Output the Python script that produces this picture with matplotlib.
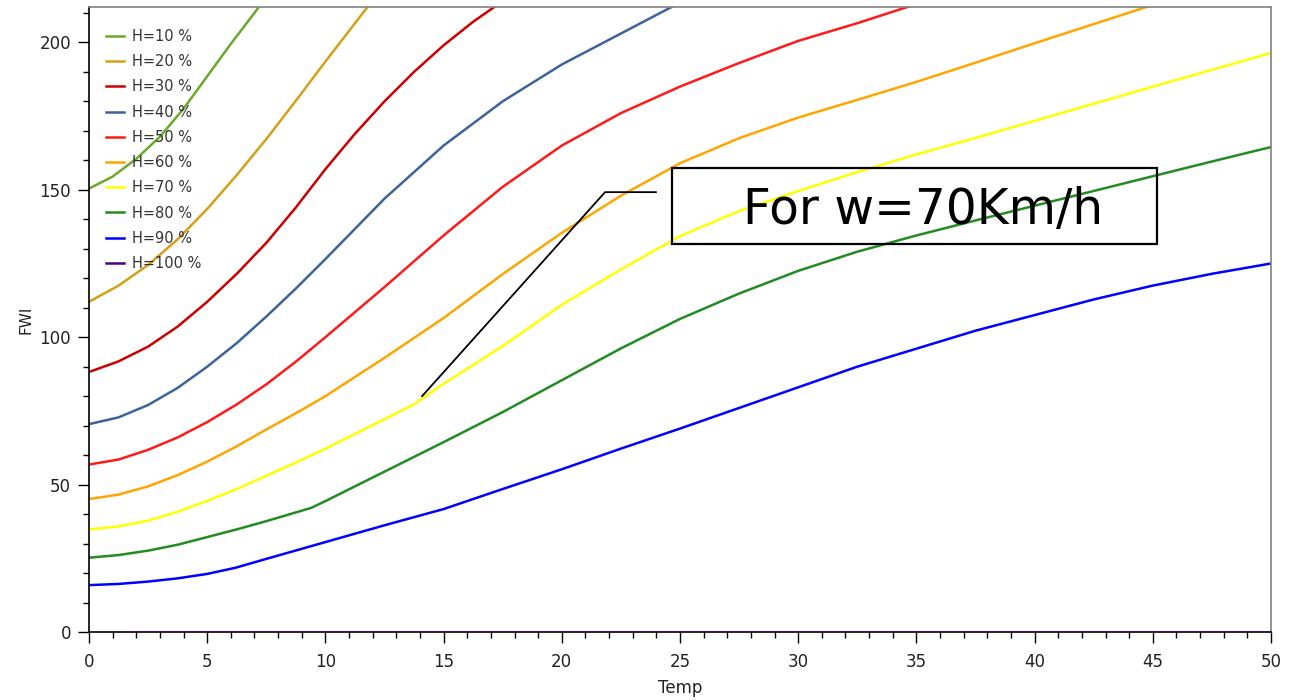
import matplotlib
matplotlib.use("Agg")
import matplotlib.pyplot as plt
from matplotlib.ticker import MultipleLocator
from matplotlib.patches import Rectangle

# ---- data ----
series_labels = ["H=10 %", "H=20 %", "H=30 %", "H=40 %", "H=50 %",
                 "H=60 %", "H=70 %", "H=80 %", "H=90 %", "H=100 %"]
series_colors = ["#6aaa2a", "#d4a017", "#cc0000", "#3c639c", "#ff1a1a",
                 "#ffa500", "#ffff00", "#228b22", "#0000ff", "#4b0082"]

t_h10 = [0, 1, 2, 3, 4, 5, 6, 7, 7.5]
f_h10 = [150.4, 154.5, 160.5, 168, 177.5, 188.5, 199.5, 210, 215.5]

t_h20 = [0, 1.25, 2.5, 3.75, 5, 6.25, 7.5, 8.75, 10, 11.25, 12.5]
f_h20 = [112, 117.5, 124.5, 133.2, 143.5, 155, 167.2, 180.2, 193.5, 206.5, 219.5]

t_h30 = [0, 1.25, 2.5, 3.75, 5, 6.25, 7.5, 8.75, 10, 11.25, 12.5, 13.75,
         15, 16.25, 17.5]
f_h30 = [88.2, 91.8, 96.8, 103.6, 112, 121.5, 132, 144, 157, 169, 180,
         190, 199, 207, 214]

t_h40 = [0, 1.25, 2.5, 3.75, 5, 6.25, 7.5, 8.75, 10, 12.5, 15, 17.5, 20,
         22.5, 25]
f_h40 = [70.5, 72.8, 77, 82.8, 90, 98, 107, 116.5, 126.5, 147, 165,
         180, 192.5, 203, 213.5]

t_h50 = [0, 1.25, 2.5, 3.75, 5, 6.25, 7.5, 8.75, 10, 12.5, 15, 17.5, 20,
         22.5, 25, 27.5, 30, 32.5, 35]
f_h50 = [56.8, 58.5, 61.8, 66, 71.2, 77.2, 84, 91.7, 100, 117, 134.5,
         151, 165, 176, 185, 193, 200.5, 206.5, 213]

t_h60 = [0, 1.25, 2.5, 3.75, 5, 6.25, 7.5, 8.75, 10, 12.5, 15, 17.5, 20,
         22.5, 25, 27.5, 30, 32.5, 35, 37.5, 40, 42.5, 45]
f_h60 = [45.1, 46.6, 49.4, 53.2, 57.8, 63, 68.7, 74.2, 80, 93, 106.5,
         121.4, 135.4, 148, 159, 167.5, 174.5, 180.5, 186.6, 193.1, 199.7,
         206.2, 212.7]

t_h70 = [0, 1.25, 2.5, 3.75, 5, 6.25, 7.5, 8.75, 10, 12.5, 13.7, 15, 17.5,
         20, 22.5, 25, 27.5, 30, 32.5, 35, 37.5, 40, 42.5, 45, 47.5, 50]
f_h70 = [34.8, 35.8, 37.8, 40.8, 44.5, 48.5, 53, 57.5, 62.2, 72.2, 77,
         84.2, 97, 111, 123, 134.3, 142.8, 149.6, 156, 162, 167.6, 173.4,
         179.2, 185, 190.7, 196.4]

t_h80 = [0, 1.25, 2.5, 3.75, 5, 6.25, 7.5, 9.4, 10, 12.5, 15, 17.5, 20,
         22.5, 25, 27.5, 30, 32.5, 35, 37.5, 40, 42.5, 45, 47.5, 50]
f_h80 = [25.2, 26.1, 27.6, 29.6, 32.2, 34.8, 37.6, 42.1, 44.4, 54.4, 64.4,
         74.6, 85.4, 96.2, 106.2, 114.8, 122.5, 129, 134.5, 139.6, 144.6,
         149.6, 154.6, 159.6, 164.5]

t_h90 = [0, 1.25, 2.5, 3.75, 5, 6.2, 7.5, 10, 12.5, 15, 17.5, 20, 22.5,
         25, 27.5, 30, 32.5, 35, 37.5, 40, 42.5, 45, 47.5, 50]
f_h90 = [15.9, 16.3, 17.1, 18.2, 19.7, 21.8, 24.8, 30.5, 36.2, 41.7, 48.5,
         55.2, 62.2, 69.0, 76.0, 83.0, 90.0, 96.1, 102.2, 107.5, 112.8,
         117.5, 121.5, 125.0]

t_h100 = [1.7, 50]
f_h100 = [0, 0]

annotation_text = "For w=70Km/h"

# ---- figure ----
fig = plt.figure(figsize=(12.94, 7.0), dpi=100)
ax = fig.add_axes([89 / 1294, 1 - 632 / 700, (1271 - 89) / 1294, (632 - 7) / 700])

series = [
    (t_h10, f_h10), (t_h20, f_h20), (t_h30, f_h30), (t_h40, f_h40),
    (t_h50, f_h50), (t_h60, f_h60), (t_h70, f_h70), (t_h80, f_h80),
    (t_h90, f_h90), (t_h100, f_h100),
]
for (tx, fy), lab, col in zip(series, series_labels, series_colors):
    z = 3 if lab == "H=100 %" else 2
    ax.plot(tx, fy, color=col, lw=1.8, label=lab, zorder=z,
            solid_joinstyle="round")

ax.set_xlim(0, 50)
ax.set_ylim(0, 212)
ax.xaxis.set_major_locator(MultipleLocator(5))
ax.xaxis.set_minor_locator(MultipleLocator(1))
ax.yaxis.set_major_locator(MultipleLocator(50))
ax.yaxis.set_minor_locator(MultipleLocator(10))
ax.tick_params(which="major", length=8, width=1, labelsize=12,
               labelcolor="#222222", color="black")
ax.tick_params(which="minor", length=4, width=1, color="black")
ax.tick_params(axis="x", which="major", pad=7)
ax.tick_params(axis="y", which="major", pad=5)

for s in ["left", "bottom"]:
    ax.spines[s].set_color("black")
    ax.spines[s].set_linewidth(1.2)
for s in ["top", "right"]:
    ax.spines[s].set_color("#808080")
    ax.spines[s].set_linewidth(1.2)

ax.set_xlabel("Temp", fontsize=12, color="#222222", labelpad=6)
ax.set_ylabel("FWI", fontsize=11, color="#222222", labelpad=4)

leg = ax.legend(loc="upper left", frameon=False, fontsize=10.5,
                handlelength=1.25, handletextpad=0.55, labelspacing=0.70,
                borderaxespad=0.0, bbox_to_anchor=(0.0095, 0.974))
for t in leg.get_texts():
    t.set_color("#333333")

# callout and box
ax.plot([14.09, 21.83, 23.98], [80, 149.2, 149.2], color="black", lw=1.3, zorder=4)
ax.add_patch(Rectangle((24.66, 131.5), 45.18 - 24.66, 157.3 - 131.5,
                       fill=True, facecolor="none", edgecolor="black",
                       lw=1.6, zorder=4))
ax.text(35.3, 143.0, annotation_text, fontsize=35, ha="center", va="center",
        color="black", zorder=5)

fig.savefig("out.png", dpi=100)
